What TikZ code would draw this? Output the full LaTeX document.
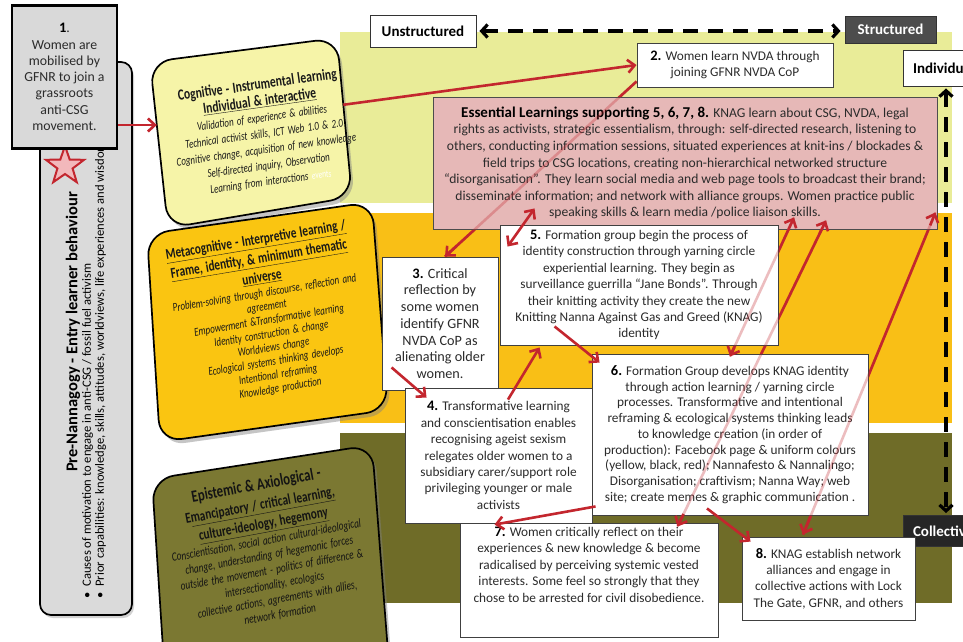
\documentclass[tikz,border=0pt]{standalone}
\usepackage{fontspec}
\setmainfont{Carlito}
\newfontfamily\cf{Carlito}[FakeStretch=0.75]
\usetikzlibrary{arrows.meta,shadows,shapes.geometric,calc}
\definecolor{lgreen}{HTML}{E9EC98}
\definecolor{orng}{HTML}{F9BF16}
\definecolor{oliveband}{HTML}{6F6C28}
\definecolor{cogfill}{HTML}{F6F4A8}
\definecolor{metafill}{HTML}{FAC511}
\definecolor{epifill}{HTML}{7B7832}
\definecolor{barfill}{HTML}{DADADA}
\definecolor{boxonefill}{HTML}{D9D9D9}
\definecolor{pinkfill}{HTML}{E6B8B7}
\definecolor{arrred}{HTML}{C3262E}
\definecolor{starpink}{HTML}{F2B8BB}
\definecolor{darkbox}{HTML}{4D4D4D}
\definecolor{blackbox}{HTML}{262626}
\definecolor{txt}{HTML}{2B2B2B}
\newcommand{\cogT}{\normalfont\cf\bfseries\fontsize{15.5}{16.5}\selectfont}
\newcommand{\cogI}{\normalfont\cf\itshape\fontsize{12}{16}\selectfont}
\newcommand{\metaT}{\normalfont\cf\bfseries\fontsize{15}{14}\selectfont}
\newcommand{\metaI}{\normalfont\cf\itshape\fontsize{12}{13.8}\selectfont}
\newcommand{\epiT}{\normalfont\cf\bfseries\fontsize{17}{15}\selectfont}
\newcommand{\epiU}{\normalfont\cf\bfseries\fontsize{15}{15}\selectfont}
\newcommand{\epiI}{\normalfont\cf\itshape\fontsize{12.5}{15}\selectfont}
\newcommand{\bnum}[1]{{\bfseries\fontsize{14.5}{16}\selectfont\color{black}#1}}
\pgfdeclarelayer{bands}
\pgfdeclarelayer{under}
\pgfsetlayers{bands,under,main}
\begin{document}
\begin{tikzpicture}[x=1pt,y=-1pt,
  tbox/.style={draw=black!75, line width=0.9pt, fill=white, align=center, text=txt, inner sep=0pt, font=\fontsize{13.3}{16.4}\selectfont},
  redline/.style={draw=arrred, line width=2.6pt},
  redarr/.style={redline, -{Straight Barb[length=7pt,width=13pt]}},
  redarrs/.style={redline, {Straight Barb[length=7pt,width=13pt]}-{Straight Barb[length=7pt,width=13pt]}},
  blackdash/.style={draw=black, line width=3.2pt, dash pattern=on 15pt off 10pt, {Straight Barb[length=6pt,width=13pt]}-{Straight Barb[length=6pt,width=13pt]}},
  ghost/.style={draw=arrred, line width=2.6pt, draw opacity=0.3},
  roundbox/.style={draw=black, line width=1.7pt, rounded corners=22pt, drop shadow={shadow xshift=3pt, shadow yshift=-4pt, opacity=0.45}},
  headbox/.style={draw=black!80, line width=0.9pt, inner sep=0pt, font=\bfseries\fontsize{15}{17}\selectfont},
  boxtext/.style={align=center, inner sep=0pt}
]
\useasboundingbox (0,0) rectangle (963,641);
\begin{pgfonlayer}{bands}
\fill[white] (0,0) rectangle (963,641);
\fill[lgreen] (340,32) rectangle (952,203);
\fill[orng] (340,213) rectangle (952,423);
\fill[oliveband] (340,433) rectangle (952,603);
\end{pgfonlayer}

% left bar
\node[draw=black, line width=1.7pt, fill=barfill, rounded corners=11pt, minimum width=92pt, minimum height=553pt, drop shadow={shadow xshift=2pt,shadow yshift=-3pt,opacity=0.35}] (bar) at (86,338.5) {};
\node[star, star points=5, star point ratio=2.5, draw=arrred, fill=starpink, line width=2pt, minimum size=40pt, inner sep=0pt] (star) at (65,166) {};
\node[rotate=90, font=\bfseries\fontsize{16.5}{18}\selectfont, inner sep=0pt] (pretitle) at (73,332) {Pre-Nannagogy - Entry learner behaviour};
\node[rotate=90, anchor=north west, align=left, inner sep=0pt, text=black, font=\fontsize{12.6}{13}\selectfont] (prelist) at (82,599) {\textbullet\hspace{6pt}Causes of motivation to engage in anti-CSG / fossil fuel activism\\ \textbullet\hspace{6pt}Prior capabilities: knowledge, skills, attitudes, worldviews, life experiences and wisdom};
\node[draw=black, line width=2.8pt, fill=boxonefill, minimum width=105pt, minimum height=143pt, align=center, inner sep=0pt, font=\fontsize{13.8}{16.3}\selectfont, text=txt] (box1) at (64.5,77) {\bnum{1}.\\Women are\\mobilised by\\GFNR to join a\\grassroots\\anti-CSG\\movement.};

% rotated learning boxes (drawn as tilted rounded quadrilaterals)
\coordinate (cogTL) at (150,62);  \coordinate (cogTR) at (337,38);
\coordinate (cogBR) at (352,197); \coordinate (cogBL) at (168,228);
\coordinate (metaTL) at (147,234); \coordinate (metaTR) at (372,202);
\coordinate (metaBR) at (388,410); \coordinate (metaBL) at (160,442);
\coordinate (epiTL) at (152,479); \coordinate (epiTR) at (372,445);
\coordinate (epiBR) at (389,665); \coordinate (epiBL) at (166,695);
\path[roundbox, fill=cogfill] ($(cogTL)!0.5!(cogTR)$) -- (cogTR) -- (cogBR) -- (cogBL) -- (cogTL) -- cycle;
\path[roundbox, fill=metafill] ($(metaTL)!0.5!(metaTR)$) -- (metaTR) -- (metaBR) -- (metaBL) -- (metaTL) -- cycle;
\path[roundbox, fill=epifill] ($(epiTL)!0.5!(epiTR)$) -- (epiTR) -- (epiBR) -- (epiBL) -- (epiTL) -- cycle;
\coordinate (cogw) at ($(cogTL)!0.38!(cogBL)$);
\coordinate (coge) at ($(cogTR)!0.42!(cogBR)$);

\node[boxtext, rotate=8, text width=230pt, text=black!90] (cogtext) at (264,133) {\cogT Cognitive - Instrumental learning\\ \cogT\underline{Individual \& interactive}\\ \cogI Validation of experience \& abilities\\ \cogI Technical activist skills, ICT Web 1.0 \& 2.0\\ \cogI Cognitive change, acquisition of new knowledge\\ \cogI Self-directed inquiry, Observation\\ \cogI Learning from interactions \textcolor{white}{\fontsize{10}{12}\selectfont events}\par};
\node[boxtext, rotate=9.5, text width=240pt, text=black!90] (metatext) at (268,314) {\metaT\underline{Metacognitive - Interpretive learning /}\\[3pt] \metaT\underline{Frame, identity, \& minimum thematic}\\[3pt] \metaT\underline{universe}\\[1pt] \metaI Problem-solving through discourse, reflection and\\ \metaI agreement\\ \metaI Empowerment \&Transformative learning\\ \metaI Identity construction \& change\\ \metaI Worldviews change\\ \metaI Ecological systems thinking develops\\ \metaI Intentional reframing\\ \metaI Knowledge production\par};
\node[boxtext, rotate=10.5, text width=250pt, text=black!92] (epitext) at (268,549) {\epiT Epistemic \& Axiological -\\[5pt] \epiU E\underline{mancipatory / critical learning,}\\[3pt] \epiU\underline{culture-ideology, hegemony}\\[1pt] \epiI Conscientisation, social action cultural-ideological\\ \epiI change, understanding of hegemonic forces\\ \epiI outside the movement - politics of difference \&\\ \epiI intersectionality,  ecologics\\ \epiI collective actions, agreements with allies,\\ \epiI network formation\par};

% axis labels
\node[headbox, fill=white, minimum width=106pt, minimum height=32pt] (unstr) at (423,31) {Unstructured};
\node[headbox, fill=darkbox, text=white, minimum width=91pt, minimum height=27pt] (str) at (890.5,29.5) {Structured};
\node[headbox, fill=white, minimum width=90pt, minimum height=36pt, text width=78pt, align=left] (indiv) at (948,68) {\hspace*{4pt}Individual};
\node[headbox, fill=blackbox, text=white, minimum width=90pt, minimum height=31pt, text width=78pt, align=left] (coll) at (948,531) {\hspace*{4pt}Collective};
\draw[blackdash] ([xshift=3pt]unstr.east) -- ([xshift=-4pt]str.west |- unstr.east);
\draw[blackdash] ([xshift=-2pt,yshift=-2pt]indiv.south) -- ([xshift=-2pt,yshift=2pt]coll.north);

% text boxes
\node[tbox, minimum width=196pt, minimum height=44pt] (box2) at (735,65) {\bnum{2.} Women  learn NVDA through\\joining GFNR NVDA  CoP};
\node[tbox, fill=pinkfill, draw=black!70, minimum width=504pt, minimum height=132pt, font=\fontsize{13.6}{16.6}\selectfont] (ess) at (685,163) {{\bfseries\fontsize{15}{16.6}\selectfont\color{black}Essential Learnings supporting 5, 6, 7, 8.} KNAG  learn about CSG, NVDA,  legal\\rights as activists, strategic essentialism, through: self-directed research, listening to\\others, conducting information sessions, situated experiences at knit-ins / blockades \&\\field trips to CSG  locations, creating non-hierarchical networked structure\\“disorganisation”. They learn social media and web page tools to broadcast their brand;\\disseminate information; and network with alliance groups. Women practice public\\speaking skills \& learn media /police liaison skills.};
\node[tbox, minimum width=116pt, minimum height=133pt, font=\fontsize{14.2}{16.7}\selectfont] (box3) at (440,323.5) {\bnum{3.} Critical\\reflection by\\some women\\identify GFNR\\NVDA  CoP as\\alienating older\\women.};
\node[tbox, minimum width=278pt, minimum height=120pt] (box5) at (639,285) {\bnum{5.} Formation group begin the process of\\identity construction through yarning circle\\experiential learning. They begin as\\surveillance guerrilla “Jane Bonds”. Through\\their knitting activity they create the new\\Knitting Nanna Against Gas and Greed (KNAG)\\identity};
\node[tbox, minimum width=187pt, minimum height=135pt] (box4) at (498.5,455.5) {\bnum{4.} Transformative learning\\and conscientisation enables\\recognising ageist sexism\\relegates older women  to a\\subsidiary carer/support role\\privileging younger or male\\activists};
\node[tbox, minimum width=276pt, minimum height=161pt, font=\fontsize{13.3}{15.7}\selectfont] (box6) at (730,434.5) {\bnum{6.} Formation Group develops KNAG  identity\\through action learning / yarning circle\\processes. Transformative and intentional\\reframing \& ecological systems thinking leads\\to knowledge  creation (in order of\\production): Facebook page \&  uniform colours\\(yellow, black, red);  Nannafesto \& Nannalingo;\\Disorganisation; craftivism; Nanna Way; web\\site; create memes  \& graphic communication .};
\node[tbox, minimum width=258pt, minimum height=114pt] (box7) at (589,580) {\parbox[c][108pt][t]{254pt}{\centering\vspace*{1pt}\bnum{7.} Women  critically reflect on their\\experiences \& new knowledge \& become\\radicalised by perceiving systemic vested\\interests. Some feel so strongly that they\\chose to  be  arrested for civil disobedience.}};
\node[tbox, minimum width=173pt, minimum height=83pt] (box8) at (828.5,578.5) {\bnum{8.} KNAG  establish network\\alliances and engage in\\collective actions with Lock\\The Gate, GFNR,  and others};

% connector end points
\coordinate (l1a) at ([yshift=6pt]box2.south west);
\coordinate (l1b) at ([xshift=5pt]box3.north);
\coordinate (lca) at ([xshift=109pt,yshift=12pt]ess.south);
\coordinate (lcb) at ([yshift=-3pt]box6.north);
\coordinate (laa) at ([xshift=141pt,yshift=9pt]ess.south);
\coordinate (lab) at ([xshift=-41pt,yshift=-4pt]box7.north east);
\coordinate (lba) at ([xshift=-2pt,yshift=17pt]ess.south east);
\coordinate (lbb) at ([xshift=-25.5pt,yshift=2pt]box8.north);
\coordinate (a1s) at ([yshift=-48pt]box1.east);

% lines passing behind boxes
\begin{pgfonlayer}{under}
\draw[redline] (l1a) -- (l1b);
\draw[redline] (lca) -- (lcb);
\draw[redline] (laa) -- (lab);
\draw[redline] (lba) -- (lbb);
\end{pgfonlayer}
\draw[ghost] (l1a) -- (l1b);
\draw[ghost] (lca) -- (lcb);
\draw[ghost] (laa) -- (lab);
\draw[ghost] (lba) -- (lbb);
\draw[redarr] ($(l1b)!16pt!(l1a)$) -- (l1b);
\draw[redarr] ($(lca)!14pt!(lcb)$) -- (lca);
\draw[redarr] ($(lcb)!10pt!(lca)$) -- (lcb);
\draw[redarr] ($(laa)!14pt!(lab)$) -- (laa);
\draw[redarr] ($(lab)!14pt!(laa)$) -- (lab);
\draw[redarr] ($(lba)!14pt!(lbb)$) -- (lba);
\draw[redarr] ($(lbb)!20pt!(lba)$) -- (lbb);

% other connectors
\draw[redarr] (a1s) -- (a1s -| cogw);
\draw[redarr] (coge) -- (box2.west);
\draw[redarrs] ([xshift=102pt,yshift=21pt]ess.south west) -- ([xshift=8pt,yshift=-22pt]box5.north west);
\draw[redarr] ([xshift=10pt,yshift=23pt]box3.south west) -- ([xshift=22pt,yshift=-10pt]box4.north west);
\draw[redarr] ([xshift=9.5pt,yshift=-12pt]box4.north) -- ([xshift=40pt,yshift=-2pt]box5.south west);
\draw[redarr] ([xshift=55pt,yshift=19pt]box5.south west) -- ([xshift=8pt,yshift=-9pt]box6.north west);
\draw[redarr] ([xshift=4pt,yshift=9pt]box6.south west) -- ([xshift=35pt,yshift=-2pt]box7.north west);
\draw[redarr] ([xshift=-23pt,yshift=7pt]box6.south) -- ([xshift=9pt,yshift=-5pt]box8.north west);
\end{tikzpicture}
\end{document}
